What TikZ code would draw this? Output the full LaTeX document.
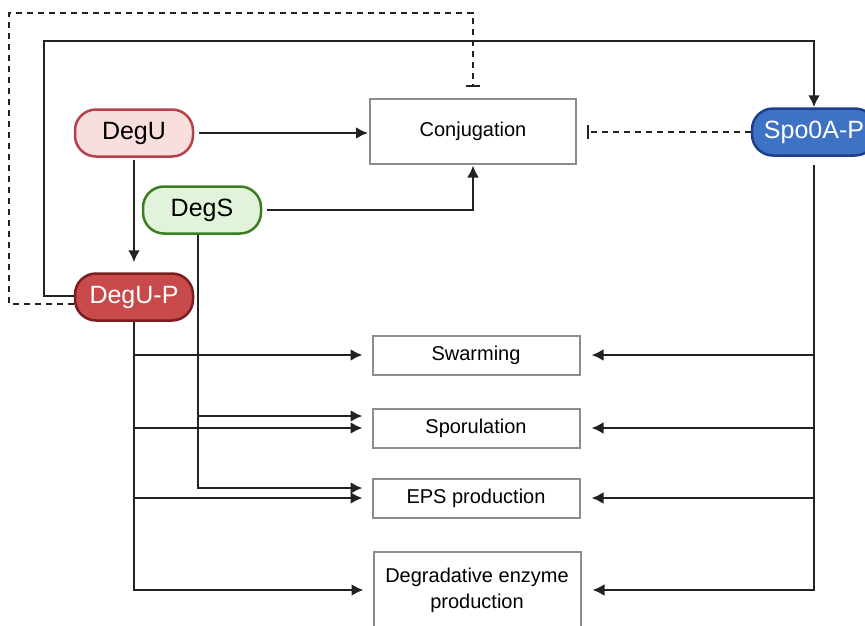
\documentclass[tikz,border=0pt]{standalone}
\usepackage{fontspec}
\setmainfont{Liberation Sans}
\usetikzlibrary{arrows.meta, positioning}

\definecolor{degufill}{HTML}{F9DEDE}
\definecolor{deguline}{HTML}{B5424A}
\definecolor{degsfill}{HTML}{E2F3DC}
\definecolor{degsline}{HTML}{3B7D23}
\definecolor{degupfill}{HTML}{C94A4A}
\definecolor{degupline}{HTML}{7B1C1E}
\definecolor{spoafill}{HTML}{3D72C4}
\definecolor{spoaline}{HTML}{1E3F8C}
\definecolor{boxgray}{HTML}{8C8C8C}
\definecolor{wire}{HTML}{222222}

\begin{document}
\begin{tikzpicture}[x=1pt, y=-1pt, on grid, line width=2.4pt, draw=wire,
  >={Latex[length=12pt, width=12pt]},
  protein/.style={draw, rounded corners=21pt, line width=2.5pt,
    minimum width=118pt, minimum height=47pt,
    font=\fontsize{25}{28}\selectfont},
  process/.style={draw=boxgray, line width=2pt,
    minimum width=207pt, minimum height=39pt, align=center,
    font=\fontsize{20}{26}\selectfont},
  act/.style={->, shorten >=9pt},
  inhib/.style={-{Bar[width=14pt]}, dash pattern=on 6pt off 5pt, shorten >=10pt}]
  \clip (0,0) rectangle (865,626);

  % regulators
  \node[protein, fill=degufill, draw=deguline] (degu) at (134,133) {DegU};
  \node[protein, fill=degsfill, draw=degsline] (degs) at (202,210) {DegS};
  \node[protein, fill=degupfill, draw=degupline, text=white] (degup) at (134,297) {DegU-P};
  \node[protein, fill=spoafill, draw=spoaline, text=white, minimum width=124pt] (spoa) at (814,132) {Spo0A-P};

  % phenotypes
  \node[process, minimum width=206pt, minimum height=65pt] (conj) at (473,131) {Conjugation};
  \node[process] (swarm) at (476,355) {Swarming};
  \node[process] (spor) [below=73pt of swarm] {Sporulation};
  \node[process] (eps) [below=70pt of spor] {EPS production};
  \node[process, minimum height=76pt] (degr) at (477,590) {Degradative enzyme\\production};

  \coordinate (toploop) at (44,41);
  \coordinate (outerloop) at (9,13);
  \coordinate (sbus) at ([xshift=-4pt]degs.south);
  \coordinate (sporS) at ([yshift=12pt]spor.west);
  \coordinate (epsS) at ([yshift=10pt]eps.west);

  % feedback loops over the top
  \draw[->] ([yshift=1pt]degup.west) -| (toploop) -| (spoa.north);
  \draw[inhib] ([yshift=-7pt]degup.west) -| (outerloop) -| (conj.north);

  % conjugation
  \draw[->, shorten <=5pt, shorten >=1pt] (degu.east) -- (degu.east -| conj.west);
  \draw[->, shorten <=5pt, shorten >=1pt] (degs.east) -| (conj.south);
  \draw[inhib] (spoa.west) -- (spoa.west -| conj.east);
  \draw[->, shorten <=2pt, shorten >=10pt] (degu.south) -- (degup.north);

  % DegU-P branches
  \draw[act] (degup.south) |- (degr.west);
  \draw[act] (degup.south |- swarm.west) -- (swarm.west);
  \draw[act] (degup.south |- spor.west) -- (spor.west);
  \draw[act] (degup.south |- eps.west) -- (eps.west);

  % DegS branches
  \draw[act] (sbus) |- (epsS);
  \draw[act] (sbus |- sporS) -- (sporS);

  % Spo0A-P branches
  \draw[act, shorten <=8pt, shorten >=11pt] (spoa.south) |- (degr.east);
  \draw[act, shorten >=11pt] (spoa.south |- swarm.east) -- (swarm.east);
  \draw[act, shorten >=11pt] (spoa.south |- spor.east) -- (spor.east);
  \draw[act, shorten >=11pt] (spoa.south |- eps.east) -- (eps.east);
\end{tikzpicture}
\end{document}
